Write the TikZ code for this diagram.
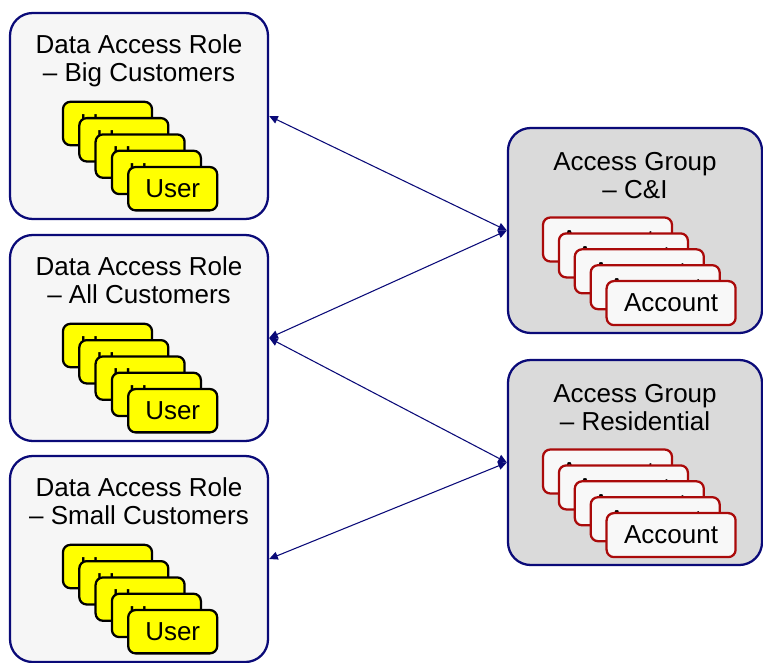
\documentclass[tikz,border=0pt]{standalone}
\usepackage{fontspec}
\setmainfont{Liberation Sans}
\definecolor{RoleNavy}{RGB}{10, 10, 120}
\definecolor{RoleFill}{RGB}{246, 246, 246}
\definecolor{GroupFill}{RGB}{218, 218, 218}
\definecolor{CardYellow}{RGB}{255, 255, 0}
\definecolor{CardRed}{RGB}{170, 10, 10}
\definecolor{CardWhite}{RGB}{248, 248, 248}
\usetikzlibrary{arrows.meta, positioning}

\begin{document}
\begin{tikzpicture}[x=0.75pt, y=-0.75pt, >={Triangle[length=6.5pt, width=6pt]},
    rolebox/.style={draw=RoleNavy, line width=1.7pt, fill=RoleFill, rounded corners=17pt,
        minimum width=193.5pt, minimum height=154.5pt, inner sep=0pt},
    groupbox/.style={rolebox, fill=GroupFill, minimum width=190.5pt, minimum height=153.75pt},
    boxtitle/.style={anchor=north, align=center, inner sep=0pt,
        font=\fontsize{19.5}{21}\selectfont},
    usercard/.style={draw=black, line width=1.7pt, fill=CardYellow, rounded corners=5.5pt,
        minimum width=66.75pt, minimum height=32.5pt, inner sep=0pt,
        font=\fontsize{19.5}{21}\selectfont},
    acctcard/.style={usercard, draw=CardRed, fill=CardWhite, minimum width=96.75pt, minimum height=33pt},
    link/.style={<->, RoleNavy, line width=0.8pt}]
        \useasboundingbox (0,0) rectangle (763,663);
        % data access roles (left column)
        \foreach \n/\y/\lbl in {1/116/Big Customers, 2/338/All Customers, 3/559/Small Customers} {
            \node[rolebox] (role\n) at (139,\y) {};
            \node[boxtitle] (role\n-title) at ([yshift=-23*0.75pt]role\n.north) {Data Access Role\\-- \lbl};
            % stacked users, each one hides most of the one behind
            \foreach \i in {0,...,4}
                \node[usercard] (role\n-card\i) at ([shift={(-31.5+16.3*\i,7.5+16.3*\i)}]role\n.center) {User};
        }
        % access groups (right column)
        \foreach \n/\y/\lbl in {ci/230.5/C\&I, res/462.5/Residential} {
            \node[groupbox] (grp\n) at (635,\y) {};
            \node[boxtitle] (grp\n-title) at ([yshift=-25*0.75pt]grp\n.north) {Access Group\\-- \lbl};
            \foreach \i in {0,...,4}
                \node[acctcard] (grp\n-card\i) at ([shift={(-27.5+15.9*\i,9+15.9*\i)}]grp\n.center) {Account};
        }
        % links
        \draw[link] (role1.east) -- (grpci.west);
        \draw[link] (grpci.west) -- (role2.east);
        \draw[link] (role2.east) -- (grpres.west);
        \draw[link] (grpres.west) -- (role3.east);
\end{tikzpicture}
\end{document}
